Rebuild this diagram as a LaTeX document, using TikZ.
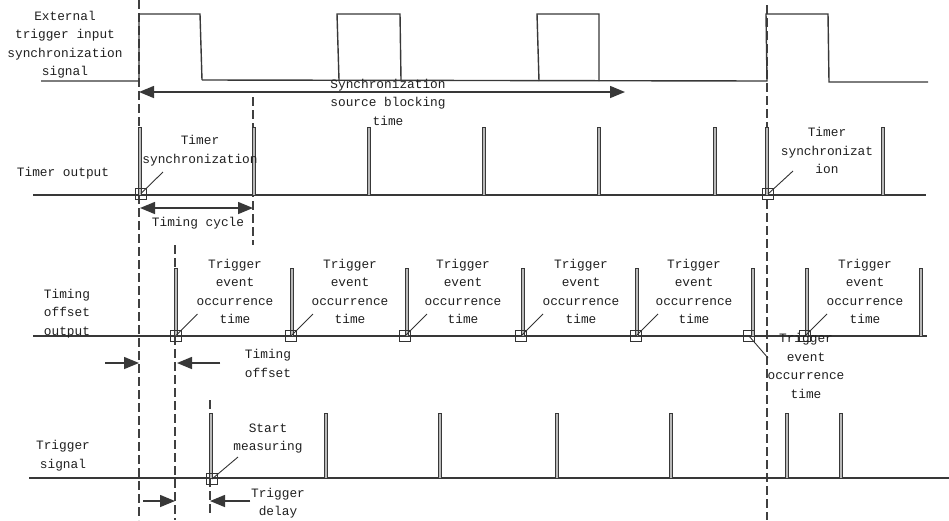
\documentclass[tikz,border=0pt]{standalone}
\usepackage{fontspec}
\newfontfamily\lbfont{Liberation Mono}
\usetikzlibrary{arrows.meta}

\begin{document}
\begin{tikzpicture}[x=1pt, y=-1pt,
  sig/.style={line width=1.4pt, draw=black!78},
  dsh/.style={line width=1.3pt, draw=black!75, dash pattern=on 9pt off 4pt},
  lbl/.style={font=\lbfont\fontsize{12.8}{18.5}\selectfont, align=center, inner sep=0pt, text=black!88},
  spk/.style={draw=black!78, fill=gray!55, line width=0.7pt},
  mk/.style={draw=black!80, line width=0.8pt, minimum size=11pt, inner sep=0pt},
  ldr/.style={line width=0.9pt, draw=black!80},
  dim/.style={-{Triangle[length=15pt,width=12pt]}, line width=1.5pt, draw=black!78, fill=black!78},
  ddim/.style={{Triangle[length=15pt,width=12pt]}-{Triangle[length=15pt,width=12pt]}, line width=1.5pt, draw=black!78, fill=black!78}
]
\useasboundingbox (0,0) rectangle (949,520);
% dashed guides
\draw[dsh] (139,0) -- (139,520);
\draw[dsh] (253,97) -- (253,245);
\draw[dsh] (175,245) -- (175,520);
\draw[dsh] (210,400) -- (210,515);
\draw[dsh] (767,5) -- (767,520);
% external trigger input
\draw[sig] (41,81) -- (139,81) -- (139,14) -- (200,14) -- (202,80);
\draw[sig] (202,80) -- (767,81) -- (766,14) -- (828,14) -- (829,82) -- (928,82);
\draw[sig] (339,80) -- (337,14) -- (400,14) -- (401,80);
\draw[sig] (539,81) -- (537,14) -- (599,14) -- (599,81);
\node[lbl] (ext) at (65,44.5) {External\\trigger input\\synchronization\\signal};
\coordinate (blkL) at (139,92);
\coordinate (blkR) at (625,92);
\draw[ddim] (blkL) -- (blkR);
\node[lbl] (blk) at (388,102) {Synchronization\\source blocking\\time};
% timer output
\draw[sig] (33,195) -- (926,195);
\foreach \x in {140,254,369,484,599,715,767,883}
  \draw[spk] (\x-1.6,127) rectangle (\x+1.6,195);
\node[lbl] (tout) at (63,173) {Timer output};
\node[mk] (ts1) at (141,193.5) {};
\node[mk] (ts2) at (768,194) {};
\node[lbl] (tsync1) at (200,150.5) {Timer\\synchronization};
\node[lbl] (tsync2) at (827,150.5) {Timer\\synchronizat\\ion};
\coordinate (ts1e) at (163,172);
\coordinate (ts2e) at (793,171);
\draw[ldr] (ts1.center) -- (ts1e);
\draw[ldr] (ts2.center) -- (ts2e);
\coordinate (cycL) at (140,208);
\coordinate (cycR) at (253,208);
\draw[ddim] (cycL) -- (cycR);
\node[lbl] (cyc) at (198,223) {Timing cycle};
% timing offset output
\draw[sig] (33,336) -- (927,336);
\foreach \x in {176,292,407,523,637,753,807,921}
  \draw[spk] (\x-1.6,268) rectangle (\x+1.6,336);
\node[lbl] (offout) at (67,313.5) {Timing\\offset\\output};
\foreach \n/\x/\lx in {1/175.5/235,2/291/350,3/405/463,4/521/581,5/636/694,7/805/865}{
  \node[mk] (e\n) at (\x,336) {};
  \node[lbl] (ev\n) at (\lx,291.5) {Trigger\\event\\occurrence\\time};
  \draw[ldr] (e\n.center) -- ++(22,-22);
}
\node[mk] (e6) at (749,336) {};
\node[lbl] (ev6) at (806,366) {Trigger\\event\\occurrence\\time};
\coordinate (e6e) at (768,358);
\draw[ldr] (e6.center) -- (e6e);
\coordinate (offA) at (105,363);
\coordinate (offB) at (139,363);
\coordinate (offC) at (220,363);
\coordinate (offD) at (177,363);
\draw[dim] (offA) -- (offB);
\draw[dim] (offC) -- (offD);
\node[lbl] (offs) at (268,363.5) {Timing\\offset};
% trigger signal
\draw[sig] (29,478) -- (949,478);
\foreach \x in {211,326,440,557,671,787,841}
  \draw[spk] (\x-1.6,413) rectangle (\x+1.6,478);
\node[lbl] (trg) at (63,455.5) {Trigger\\signal};
\node[mk] (sm) at (212,479) {};
\node[lbl] (meas) at (268,438.5) {Start\\measuring};
\coordinate (sme) at (238,457);
\draw[ldr] (sm.center) -- (sme);
\coordinate (dlyA) at (143,501);
\coordinate (dlyB) at (175,501);
\coordinate (dlyC) at (250,501);
\coordinate (dlyD) at (210,501);
\draw[dim] (dlyA) -- (dlyB);
\draw[dim] (dlyC) -- (dlyD);
\node[lbl] (dly) at (278,503) {Trigger\\delay};
\end{tikzpicture}
\end{document}
